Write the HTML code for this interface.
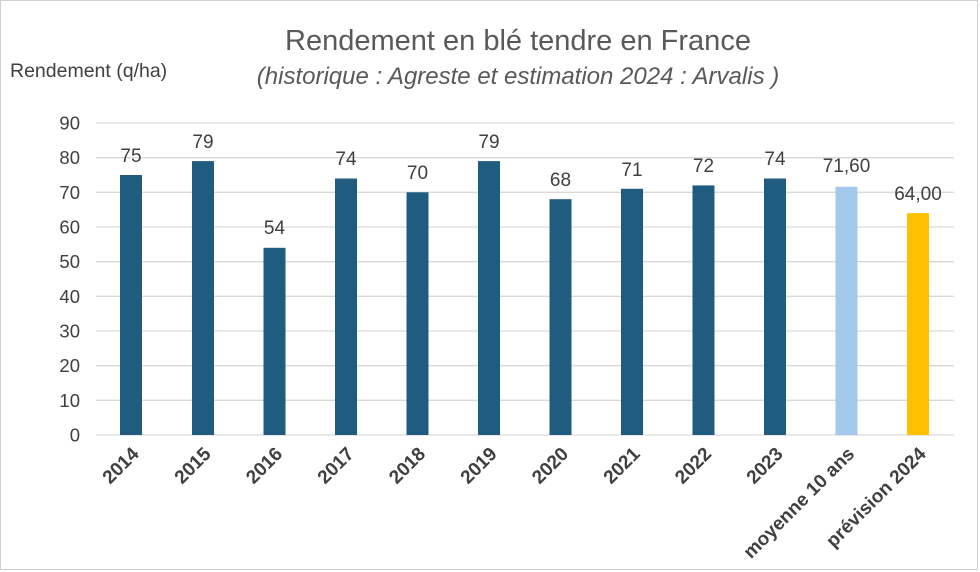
<!DOCTYPE html>
<html><head><meta charset="utf-8"><style>
body{margin:0;background:#fff}
svg{display:block;font-family:"Liberation Sans",Arial,sans-serif}
</style></head><body>
<svg width="980" height="572" viewBox="0 0 980 572" xmlns="http://www.w3.org/2000/svg">
<rect x="0.5" y="0.5" width="977" height="569" fill="#fff" stroke="#d0d0d0"/>
<text x="518" y="50" font-size="29" fill="#595959" text-anchor="middle">Rendement en blé tendre en France</text>
<text x="518" y="84" font-size="24" fill="#595959" text-anchor="middle" font-style="italic">(historique : Agreste et estimation 2024 : Arvalis )</text>
<text x="10" y="77" font-size="19.5" fill="#404040">Rendement (q/ha)</text>
<g stroke="#d9d9d9" stroke-width="1.3">
<line x1="96" x2="954" y1="123" y2="123"/><line x1="96" x2="954" y1="157.7" y2="157.7"/><line x1="96" x2="954" y1="192.3" y2="192.3"/><line x1="96" x2="954" y1="227" y2="227"/><line x1="96" x2="954" y1="261.7" y2="261.7"/><line x1="96" x2="954" y1="296.3" y2="296.3"/><line x1="96" x2="954" y1="331" y2="331"/><line x1="96" x2="954" y1="365.7" y2="365.7"/><line x1="96" x2="954" y1="400.3" y2="400.3"/><line x1="96" x2="954" y1="435" y2="435"/>
</g>
<g font-size="18.5" fill="#404040" text-anchor="end">
<text x="80" y="129.5">90</text><text x="80" y="164.2">80</text><text x="80" y="198.8">70</text><text x="80" y="233.5">60</text><text x="80" y="268.2">50</text><text x="80" y="302.8">40</text><text x="80" y="337.5">30</text><text x="80" y="372.2">20</text><text x="80" y="406.8">10</text><text x="80" y="441.5">0</text>
</g>
<g font-size="19" fill="#404040" text-anchor="middle">
<rect x="120" y="175" width="22" height="260" fill="#1f5c7f"/><text x="131" y="162">75</text>
<rect x="192" y="161.1" width="22" height="273.9" fill="#1f5c7f"/><text x="203" y="148">79</text>
<rect x="263.5" y="247.8" width="22" height="187.2" fill="#1f5c7f"/><text x="274.5" y="234">54</text>
<rect x="335" y="178.5" width="22" height="256.5" fill="#1f5c7f"/><text x="346" y="165">74</text>
<rect x="406.5" y="192.3" width="22" height="242.7" fill="#1f5c7f"/><text x="417.5" y="179">70</text>
<rect x="478" y="161.1" width="22" height="273.9" fill="#1f5c7f"/><text x="489" y="148">79</text>
<rect x="549.5" y="199.2" width="22" height="235.8" fill="#1f5c7f"/><text x="560.5" y="186">68</text>
<rect x="621" y="188.8" width="22" height="246.2" fill="#1f5c7f"/><text x="632" y="176">71</text>
<rect x="692.5" y="185.4" width="22" height="249.6" fill="#1f5c7f"/><text x="703.5" y="172">72</text>
<rect x="764" y="178.5" width="22" height="256.5" fill="#1f5c7f"/><text x="775" y="165">74</text>
<rect x="835.5" y="186.8" width="22" height="248.2" fill="#a3c9ec"/><text x="846.5" y="172">71,60</text>
<rect x="907" y="213.1" width="22" height="221.9" fill="#ffc000"/><text x="918" y="200">64,00</text>
</g>
<g font-size="19" font-weight="bold" fill="#404040" text-anchor="end">
<text transform="translate(140,455) rotate(-45)">2014</text>
<text transform="translate(212,455) rotate(-45)">2015</text>
<text transform="translate(283.5,455) rotate(-45)">2016</text>
<text transform="translate(355,455) rotate(-45)">2017</text>
<text transform="translate(426.5,455) rotate(-45)">2018</text>
<text transform="translate(498,455) rotate(-45)">2019</text>
<text transform="translate(569.5,455) rotate(-45)">2020</text>
<text transform="translate(641,455) rotate(-45)">2021</text>
<text transform="translate(712.5,455) rotate(-45)">2022</text>
<text transform="translate(784,455) rotate(-45)">2023</text>
<text transform="translate(855.5,455) rotate(-45)">moyenne 10 ans</text>
<text transform="translate(927,455) rotate(-45)">prévision 2024</text>
</g>
</svg>
</body></html>
